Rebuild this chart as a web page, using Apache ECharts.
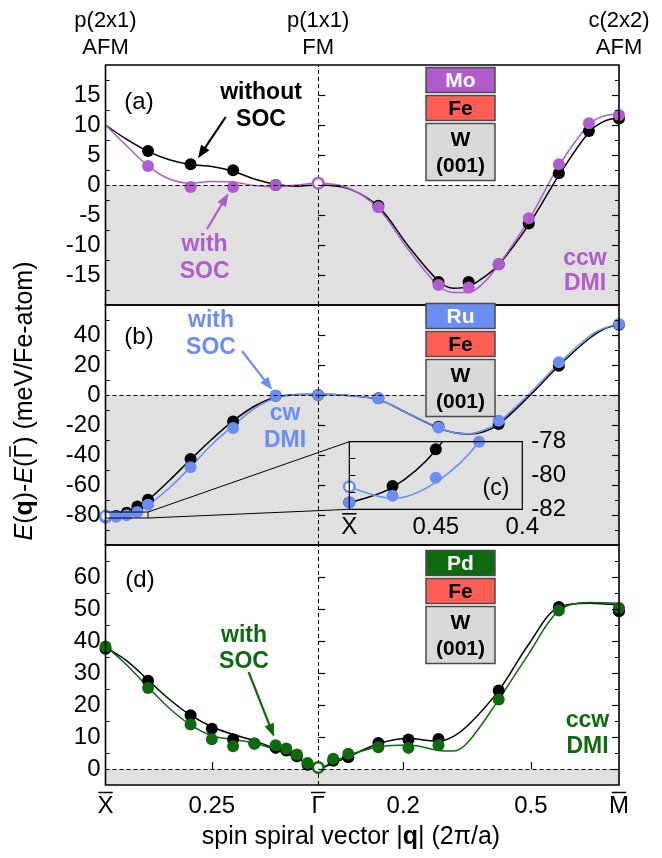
<!DOCTYPE html>
<html><head><meta charset="utf-8">
<script src="https://cdn.jsdelivr.net/npm/echarts@6/dist/echarts.min.js"></script>
<style>html,body{margin:0;padding:0;background:#fff}#c{width:662px;height:858px}</style>
</head><body><div id="c"></div>
<script>
const FONT = '"Liberation Sans", Arial, Helvetica, sans-serif';
const BLACK = '#000000';
const PURPLE = '#b05ccc';
const BLUE = '#6b8ef5';
const GREEN = '#0f6a0f';
const FE_RED = '#ff5e55';
const W_GRAY = '#d9d9d9';
const SHADE = '#e0e0e0';

// ---- x axis (signed |q|: negative = Γ→X̄ branch, positive = Γ→M̄ branch)
const xMin = -0.5, xMax = 0.7071;
const xTickVals = [-0.5, -0.25, 0, 0.2, 0.5, 0.7071];
const xTickLabels = ['X', '0.25', '\u0393', '0.2', '0.5', 'M'];
const xBarVals = [-0.5, 0, 0.7071];          // labels carrying an overbar (X̄, Γ̄, M̄)
const xTickMarks = [-0.25, 0.2, 0.5];
const topLabelVals = [-0.5, 0, 0.7071];
const topLabels = ['p(2x1)\nAFM', 'p(1x1)\nFM', 'c(2x2)\nAFM'];

// ---- panel (a) Mo/Fe/W(001)
const aYRange = [-20, 20];
const aYLabels = [-15, -10, -5, 0, 5, 10, 15];
const aYMinor = [-17.5, -12.5, -7.5, -2.5, 2.5, 7.5, 12.5, 17.5];
const aCurveQ = [-0.5,-0.45,-0.4,-0.35,-0.3,-0.25,-0.2,-0.15,-0.1,-0.05,0,0.0707,0.1414,0.2121,0.2828,0.3182,0.3536,0.3889,0.4243,0.495,0.5657,0.6364,0.6718,0.7071];
const aCurveBlack = [10,7.6,5.6,4.2,3.4,3.1,2.3,1.0,0.1,-0.2,0,-0.6,-3.6,-10.2,-16.0,-17.2,-16.9,-15.4,-13.3,-6.6,1.6,8.8,10.6,11.2];
const aCurvePurple = [10,6.5,3.2,1.0,0.3,0.6,0.5,-0.1,-0.3,0,0.3,-0.5,-3.9,-10.8,-16.8,-17.9,-17.9,-16.3,-13.3,-5.8,3.2,10.1,11.5,11.8];
const aBlackQ = [-0.4,-0.3,-0.2,-0.1,0.1414,0.2828,0.3536,0.4243,0.495,0.5657,0.6364,0.7071];
const aBlackE = [5.67,3.44,2.44,0,-3.44,-16.17,-16.17,-13.2,-6.4,1.94,9.0,11.1];
const aPurpleQ = [-0.4,-0.3,-0.2,-0.1,0.1414,0.2828,0.3536,0.4243,0.495,0.5657,0.6364,0.7071];
const aPurpleE = [3.17,-0.33,-0.33,0,-3.7,-16.67,-17.1,-13.2,-5.56,3.44,10.28,11.67];
const aOpenQ = [0], aOpenE = [0.3];

// ---- panel (b) Ru/Fe/W(001)
const bYRange = [-100, 60];
const bYLabels = [-80, -60, -40, -20, 0, 20, 40];
const bYMinor = [-90, -70, -50, -30, -10, 10, 30, 50];
const bCurveQ = [-0.5,-0.475,-0.45,-0.425,-0.4,-0.35,-0.3,-0.25,-0.2,-0.15,-0.1,-0.05,0,0.0707,0.1414,0.2121,0.2828,0.3182,0.3536,0.3889,0.4243,0.495,0.5657,0.6364,0.6718,0.7071];
const bCurveBlack = [-81.6,-80.7,-78.5,-74.6,-70,-57,-43,-29.5,-17.3,-7.5,-1.5,0.3,0.5,-0.3,-3,-12.5,-22,-25,-26,-24.5,-19.5,-1,19.5,37.5,44,47];
const bCurveBlue = [-80.66,-81.35,-80.4,-78,-73.6,-62,-48,-33,-20.5,-9,-2,0.2,0.5,-0.3,-3,-12.5,-21.8,-25,-25.8,-23.5,-18,0.5,21,39,44.5,47.3];
const bBlackQ = [-0.5,-0.475,-0.45,-0.425,-0.4,-0.3,-0.2,-0.1,0,0.1414,0.2828,0.4243,0.5657,0.7071];
const bBlackE = [-81.6,-80.62,-78.45,-74.3,-69.8,-42.7,-17.6,-0.5,0,-2.2,-21.1,-19.3,19.5,46.9];
const bBlueQ = [-0.5,-0.475,-0.45,-0.425,-0.4,-0.3,-0.2,-0.1,0,0.1414,0.2828,0.4243,0.5657,0.7071];
const bBlueE = [-81.6,-81.2,-80.13,-78.0,-73.1,-48.2,-22,-0.5,0,-2.2,-21.6,-17.1,21.8,47.3];
const bOpenQ = [-0.5], bOpenE = [-80.66];

// ---- inset (c)
const cXRange = [-0.5, -0.4];
const cYRange = [-82, -78];
const cXLabelVals = [-0.5, -0.45, -0.4];
const cXLabels = ['X', '0.45', '0.4'];
const cBarVals = [-0.5];
const cYLabels = [-82, -80, -78];
const cYTicks = [-81, -80, -79];

// ---- panel (d) Pd/Fe/W(001)
const dYRange = [-5, 70];
const dYLabels = [0, 10, 20, 30, 40, 50, 60];
const dYMinor = [5, 15, 25, 35, 45, 55, 65];
const dCurveQ = [-0.5,-0.45,-0.4,-0.35,-0.3,-0.25,-0.2,-0.15,-0.1,-0.05,-0.02,0,0.02,0.0707,0.1414,0.2121,0.2828,0.3182,0.3536,0.4243,0.495,0.5657,0.6364,0.7071];
const dCurveBlack = [38,33.8,27.8,21.8,16.8,13.2,10.8,8.8,6.3,3.5,1.3,0,0.9,3.8,7.9,9.5,8.7,10.2,13.8,24.5,39,50.6,51.8,51.3];
const dCurveGreen = [38.4,32.5,25.6,19,13.8,10.4,9.2,8.1,6.0,3.3,1.1,0,1.2,4.3,6.9,7.5,5.8,5.6,8.6,21.7,36,49.5,52,51.8];
const dBlackQ = [-0.5,-0.4,-0.3,-0.25,-0.2,-0.15,-0.1,-0.075,-0.05,-0.025,0.0354,0.0707,0.1414,0.2121,0.2828,0.4243,0.5657,0.7071];
const dBlackE = [37.6,27.6,16.8,12.6,9.3,8.0,6.6,5.8,4.0,1.3,2.6,3.7,8.1,9.2,9.4,24.5,50.6,49.3];
const dGreenQ = [-0.5,-0.4,-0.3,-0.25,-0.2,-0.15,-0.1,-0.075,-0.05,-0.025,0.0354,0.0707,0.1414,0.2121,0.2828,0.4243,0.5657,0.7071];
const dGreenE = [38.3,25.3,13.9,9.3,7.1,7.9,7.4,6.4,4.5,1.9,3.2,4.8,6.8,6.6,7.4,21.7,49.5,50.3];
const dOpenQ = [0], dOpenE = [0.5];

// ------------------------------------------------------------------
const zip = (q, e) => q.map((v, i) => [v, e[i]]);
const lookup = (vals, labels) => (v) => {
  const i = vals.findIndex(t => Math.abs(t - v) < 1e-6);
  return i >= 0 ? labels[i] : '';
};

const chart = echarts.init(document.getElementById('c'), null, {renderer: 'canvas', width: 662, height: 858});

const gridCommon = {show: true, borderColor: '#000', borderWidth: 1.6, backgroundColor: 'rgba(0,0,0,0)', z: 10, containLabel: false, outerBoundsMode: 'none'};
const PL = 105.5, PW = 513.5, PH = 240;
const grids = [
  Object.assign({left: PL, top: 65, width: PW, height: PH}, gridCommon),
  Object.assign({left: PL, top: 305, width: PW, height: PH}, gridCommon),
  Object.assign({left: PL, top: 545, width: PW, height: PH}, gridCommon),
  Object.assign({}, gridCommon, {left: 349.3, top: 441.7, width: 173, height: 67.6, borderWidth: 1.2})
];

const TICK_FS = 24;
const labelStyle = {fontSize: TICK_FS, color: '#000', fontFamily: FONT};
const X_LABEL_MARGIN = 9, C_LABEL_MARGIN = 6;
function xAxisFor(gi, opts) {
  return Object.assign({
    type: 'value', gridIndex: gi, min: xMin, max: xMax, position: 'bottom',
    axisLine: {show: false}, axisTick: {show: false}, axisLabel: {show: false},
    splitLine: {show: false}, z: 11
  }, opts || {});
}

const xAxes = [
  xAxisFor(0), xAxisFor(1),
  xAxisFor(2, {
    axisTick: {show: true, inside: true, length: 7, customValues: xTickMarks, lineStyle: {color: '#000', width: 1.2}},
    axisLabel: Object.assign({show: true, customValues: xTickVals, formatter: lookup(xTickVals, xTickLabels), margin: X_LABEL_MARGIN}, labelStyle)
  }),
  xAxisFor(3, {
    min: cXRange[0], max: cXRange[1],
    axisLabel: Object.assign({show: true, customValues: cXLabelVals, formatter: lookup(cXLabelVals, cXLabels), margin: C_LABEL_MARGIN}, labelStyle)
  })
];

function yAxesFor(gi, range, labels, minor) {
  const base = {type: 'value', gridIndex: gi, min: range[0], max: range[1], axisLine: {show: false}, splitLine: {show: false}, z: 11};
  const major = (pos, showLabel) => Object.assign({}, base, {
    position: pos,
    axisTick: {show: true, inside: true, length: 7, customValues: labels, lineStyle: {color: '#000', width: 1.2}},
    axisLabel: Object.assign({show: showLabel, customValues: labels, margin: 5}, labelStyle)
  });
  const min = (pos) => Object.assign({}, base, {
    position: pos,
    axisTick: {show: true, inside: true, length: 4, customValues: minor, lineStyle: {color: '#000', width: 1}},
    axisLabel: {show: false}
  });
  return [major('left', true), min('left'), major('right', false), min('right')];
}
const yAxes = [].concat(
  yAxesFor(0, aYRange, aYLabels, aYMinor),   // 0..3
  yAxesFor(1, bYRange, bYLabels, bYMinor),   // 4..7
  yAxesFor(2, dYRange, dYLabels, dYMinor),   // 8..11
  [
    {type: 'value', gridIndex: 3, min: cYRange[0], max: cYRange[1], position: 'left', axisLine: {show: false}, splitLine: {show: false}, z: 11,
     axisTick: {show: true, inside: true, length: 6, customValues: cYTicks, lineStyle: {color: '#000', width: 1}}, axisLabel: {show: false}},
    {type: 'value', gridIndex: 3, min: cYRange[0], max: cYRange[1], position: 'right', axisLine: {show: false}, splitLine: {show: false}, z: 11,
     axisTick: {show: false}, axisLabel: Object.assign({show: true, customValues: cYLabels, margin: 9}, labelStyle)}
  ]
);

function background(xi, yi, yMinVal) {
  return {
    type: 'line', xAxisIndex: xi, yAxisIndex: yi, data: [], z: 1, silent: true,
    markArea: {silent: true, itemStyle: {color: SHADE, opacity: 1}, data: [[{yAxis: yMinVal}, {yAxis: 0}]]},
    markLine: {silent: true, symbol: 'none', label: {show: false}, animation: false,
      lineStyle: {type: [4, 3], color: '#000', width: 1, opacity: 1}, data: [{yAxis: 0}, {xAxis: 0}]}
  };
}
function curve(xi, yi, q, e, color) {
  return {type: 'line', xAxisIndex: xi, yAxisIndex: yi, data: zip(q, e), smooth: 0.35,
    symbol: 'none', showSymbol: false, silent: true, z: 3, clip: true,
    lineStyle: {color: color, width: 1.5, opacity: 1}};
}
function dots(xi, yi, q, e, color, open) {
  return {type: 'scatter', xAxisIndex: xi, yAxisIndex: yi, data: zip(q, e), symbol: 'circle', symbolSize: open ? 10.5 : 12,
    silent: true, z: open ? 5 : 4, clip: true,
    itemStyle: open ? {color: '#fff', borderColor: color, borderWidth: 2.5, opacity: 1} : {color: color, opacity: 1}};
}

const insetRect = [[cXRange[0], cYRange[1]], [cXRange[1], cYRange[1]], [cXRange[1], cYRange[0]], [cXRange[0], cYRange[0]], [cXRange[0], cYRange[1]]];

const series = [
  background(0, 0, aYRange[0]),
  curve(0, 0, aCurveQ, aCurveBlack, BLACK),
  curve(0, 0, aCurveQ, aCurvePurple, PURPLE),
  dots(0, 0, aBlackQ, aBlackE, BLACK),
  dots(0, 0, aPurpleQ, aPurpleE, PURPLE),
  dots(0, 0, aOpenQ, aOpenE, PURPLE, true),

  background(1, 4, bYRange[0]),
  curve(1, 4, bCurveQ, bCurveBlack, BLACK),
  curve(1, 4, bCurveQ, bCurveBlue, BLUE),
  dots(1, 4, bBlackQ, bBlackE, BLACK),
  dots(1, 4, bBlueQ, bBlueE, BLUE),
  dots(1, 4, bOpenQ, bOpenE, BLUE, true),
  {type: 'line', xAxisIndex: 1, yAxisIndex: 4, data: insetRect, symbol: 'none', silent: true, z: 6, clip: false,
   lineStyle: {color: '#000', width: 1}},

  curve(3, 12, bCurveQ, bCurveBlack, BLACK),
  curve(3, 12, bCurveQ, bCurveBlue, BLUE),
  dots(3, 12, bBlackQ, bBlackE, BLACK),
  dots(3, 12, bBlueQ, bBlueE, BLUE),
  dots(3, 12, bOpenQ, bOpenE, BLUE, true),

  background(2, 8, dYRange[0]),
  curve(2, 8, dCurveQ, dCurveBlack, BLACK),
  curve(2, 8, dCurveQ, dCurveGreen, GREEN),
  dots(2, 8, dBlackQ, dBlackE, BLACK),
  dots(2, 8, dGreenQ, dGreenE, GREEN),
  dots(2, 8, dOpenQ, dOpenE, GREEN, true)
];

chart.setOption({
  animation: false,
  backgroundColor: '#fff',
  textStyle: {fontFamily: FONT},
  grid: grids,
  xAxis: xAxes,
  yAxis: yAxes,
  series: series
});

// ---------------- annotations (graphic)
const els = [];
function txt(x, y, text, opt) {
  opt = opt || {};
  els.push({type: 'text', x: x, y: y, rotation: opt.rotation || 0, z: 100, silent: true,
    style: {x: 0, y: 0, text: text, fill: opt.color || '#000',
      font: (opt.bold ? 'bold ' : '') + (opt.size || 22) + 'px ' + FONT,
      align: opt.align || 'center', verticalAlign: 'middle', textAlign: opt.align || 'center', textVerticalAlign: 'middle',
      lineHeight: opt.lh || 26, rich: opt.rich}});
}
function bar(x1, y1, x2, y2) {
  els.push({type: 'line', z: 100, silent: true, shape: {x1: x1, y1: y1, x2: x2, y2: y2}, style: {stroke: '#000', lineWidth: 1.5}});
}
function arrow(x1, y1, x2, y2, color) {
  const a = Math.atan2(y2 - y1, x2 - x1), L = 13, W = 5;
  const c = Math.cos(a), s = Math.sin(a);
  els.push({type: 'line', z: 100, silent: true, shape: {x1: x1, y1: y1, x2: x2 - c * (L - 2), y2: y2 - s * (L - 2)},
    style: {stroke: color, lineWidth: 2.2}});
  els.push({type: 'polygon', z: 100, silent: true, shape: {points: [[x2, y2], [x2 - L * c + W * s, y2 - L * s - W * c], [x2 - L * c - W * s, y2 - L * s + W * c]]},
    style: {fill: color}});
}
function stack(x, y, topFill, topText, topColor) {
  const w = 69, bs = {stroke: '#4a4a4a', lineWidth: 1.5};
  const boxes = [[y, 25, topFill, topText, topColor], [y + 28, 25, FE_RED, 'Fe', '#000'], [y + 56, 57, W_GRAY, 'W\n(001)', '#000']];
  boxes.forEach(b => {
    els.push({type: 'rect', z: 90, silent: true, shape: {x: x, y: b[0], width: w, height: b[1]}, style: Object.assign({fill: b[2]}, bs)});
    txt(x + w / 2, b[0] + b[1] / 2 + 1, b[3], {bold: true, size: 21, color: b[4], lh: 26});
  });
}
const mctx = document.createElement('canvas').getContext('2d');
function tw(text, font) { mctx.font = font; return mctx.measureText(text).width; }

// top structure labels at the high-symmetry points
topLabelVals.forEach((v, i) => {
  const p = chart.convertToPixel({xAxisIndex: 0, yAxisIndex: 0}, [v, 0]);
  txt(p[0], 34, topLabels[i], {size: 22, lh: 27});
});

// overbars on the high-symmetry point labels (bottom axis and inset)
const barHalf = 0.3 * TICK_FS;
xBarVals.forEach(v => {
  const p = chart.convertToPixel({xAxisIndex: 2, yAxisIndex: 8}, [v, dYRange[0]]);
  const y = p[1] + X_LABEL_MARGIN - 1.5;
  bar(p[0] - barHalf, y, p[0] + barHalf, y);
});
cBarVals.forEach(v => {
  const p = chart.convertToPixel({xAxisIndex: 3, yAxisIndex: 12}, [v, cYRange[0]]);
  const y = p[1] + C_LABEL_MARGIN - 1.5;
  bar(p[0] - barHalf, y, p[0] + barHalf, y);
});

// y axis title (rotated) with overbar on Γ
const YT = {x: 25, y: 401, fs: 25};
txt(YT.x, YT.y, '{i|E}({b|q})-{i|E}(\u0393) (meV/Fe-atom)', {size: YT.fs, rotation: Math.PI / 2,
  rich: {i: {fontStyle: 'italic', fontSize: YT.fs, fontFamily: FONT}, b: {fontWeight: 'bold', fontSize: YT.fs, fontFamily: FONT}}});
(function () {
  const fN = YT.fs + 'px ' + FONT, fI = 'italic ' + YT.fs + 'px ' + FONT, fB = 'bold ' + YT.fs + 'px ' + FONT;
  const pre = tw('E', fI) + tw('(', fN) + tw('q', fB) + tw(')-', fN) + tw('E', fI) + tw('(', fN);
  const gW = tw('\u0393', fN);
  const total = pre + gW + tw(') (meV/Fe-atom)', fN);
  const start = YT.y + total / 2;             // text runs bottom -> top
  const xb = YT.x - 0.6 * YT.fs;              // just above the cap height
  bar(xb, start - pre - 1.5, xb, start - pre - gW + 1.5);
})();
txt(351, 837, 'spin spiral vector |{b|q}| (2\u03c0/a)', {size: 25,
  rich: {b: {fontWeight: 'bold', fontSize: 25, fontFamily: FONT}}});

// panel labels
txt(139, 102, '(a)', {size: 24});
txt(139, 337, '(b)', {size: 24});
txt(140, 580, '(d)', {size: 24});
txt(496, 489, '(c)', {size: 23});

// legends
stack(426, 67.5, PURPLE, 'Mo', '#fff');
stack(426, 303.5, BLUE, 'Ru', '#fff');
stack(426, 550.5, GREEN, 'Pd', '#fff');

// panel (a) notes
txt(261, 106, 'without\nSOC', {bold: true, size: 23, lh: 27});
arrow(225.7, 117, 198, 158.3, BLACK);
txt(204.6, 258.5, 'with\nSOC', {bold: true, size: 23, color: PURPLE, lh: 27});
arrow(207, 229, 228.4, 193.3, PURPLE);
txt(585, 271.5, 'ccw\nDMI', {bold: true, size: 23, color: PURPLE, lh: 25});
// panel (b) notes
txt(211, 334, 'with\nSOC', {bold: true, size: 23, color: BLUE, lh: 27});
arrow(242, 351, 272.3, 390, BLUE);
txt(285, 427.5, 'cw\nDMI', {bold: true, size: 23, color: BLUE, lh: 27});
// panel (d) notes
txt(244, 649, 'with\nSOC', {bold: true, size: 23, color: GREEN, lh: 26});
arrow(248.6, 672, 274, 736.7, GREEN);
txt(587.5, 734, 'ccw\nDMI', {bold: true, size: 23, color: GREEN, lh: 26});

// connectors from the zoom box in (b) to the inset (c)
[cYRange[1], cYRange[0]].forEach(yv => {
  const p1 = chart.convertToPixel({xAxisIndex: 1, yAxisIndex: 4}, [cXRange[1], yv]);
  const p2 = chart.convertToPixel({xAxisIndex: 3, yAxisIndex: 12}, [cXRange[0], yv]);
  els.push({type: 'line', z: 60, silent: true, shape: {x1: p1[0], y1: p1[1], x2: p2[0], y2: p2[1]}, style: {stroke: '#000', lineWidth: 1}});
});

chart.setOption({graphic: {elements: els}});
</script>
</body></html>
